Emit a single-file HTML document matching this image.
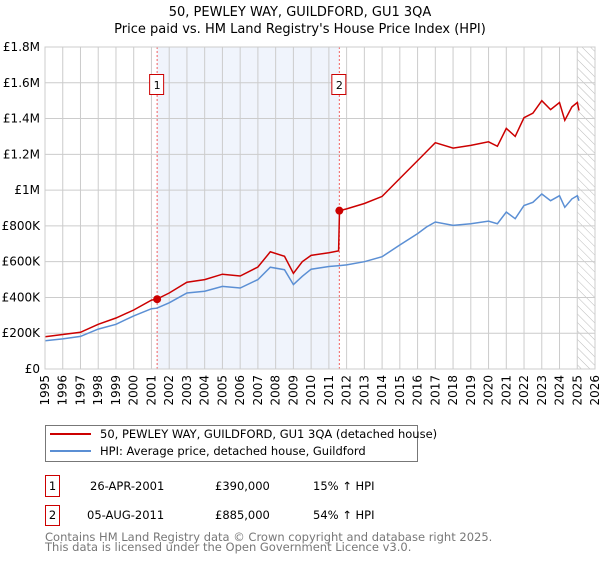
<!DOCTYPE html>
<html><head><meta charset="utf-8"><style>
body{margin:0;background:#fff;font-family:"Liberation Sans","DejaVu Sans",sans-serif;}
svg text{font-family:"DejaVu Sans","Liberation Sans",sans-serif;}
</style></head><body>
<svg id="c" width="600" height="560" xmlns="http://www.w3.org/2000/svg">
<defs><pattern id="hatch" width="6" height="6" patternUnits="userSpaceOnUse" patternTransform="rotate(-45)"><line x1="0" y1="0" x2="0" y2="6" stroke="#bbb" stroke-width="1"/></pattern></defs>
<text x="300" y="16" text-anchor="middle" font-size="13">50, PEWLEY WAY, GUILDFORD, GU1 3QA</text>
<text x="300" y="33" text-anchor="middle" font-size="13">Price paid vs. HM Land Registry's House Price Index (HPI)</text>
<g id="plot"></g>
<g>
<rect x="45.5" y="425.5" width="372" height="36" fill="#fff" stroke="#777"/>
<line x1="50" y1="434" x2="91" y2="434" stroke="#cc0000" stroke-width="2"/>
<text x="100" y="438" font-size="11.5">50, PEWLEY WAY, GUILDFORD, GU1 3QA (detached house)</text>
<line x1="50" y1="451" x2="91" y2="451" stroke="#5b8fd4" stroke-width="2"/>
<text x="100" y="455" font-size="11.5">HPI: Average price, detached house, Guildford</text>
</g>
<g font-size="11.5">
<rect x="45.5" y="475.5" width="14" height="21" fill="none" stroke="#cc0000"/>
<text x="52.5" y="490" text-anchor="middle">1</text>
<text x="90" y="490">26-APR-2001</text><text x="215" y="490">£390,000</text><text x="313" y="490">15% ↑ HPI</text>
<rect x="45.5" y="505.5" width="14" height="20" fill="none" stroke="#cc0000"/>
<text x="52.5" y="519" text-anchor="middle">2</text>
<text x="87" y="519">05-AUG-2011</text><text x="215" y="519">£885,000</text><text x="313" y="519">54% ↑ HPI</text>
</g>
<text x="45" y="541" font-size="11.5" fill="#777">Contains HM Land Registry data © Crown copyright and database right 2025.</text>
<text x="45" y="551" font-size="11.5" fill="#777">This data is licensed under the Open Government Licence v3.0.</text>
</svg>
<script>
const hpiYears=[1995,1996,1997,1998,1999,2000,2001,2001.3,2002,2003,2004,2005,2006,2007,2007.7,2008.5,2009,2009.5,2010,2011,2011.6,2012,2013,2014,2015,2016,2016.5,2017,2018,2019,2020,2020.5,2021,2021.5,2022,2022.5,2023,2023.5,2024,2024.3,2024.7,2025,2025.1];
const hpiValues=[158,168,182,223,250,297,337,340,370,425,435,462,453,500,569,555,472,518,558,573,578,582,600,628,693,757,794,822,803,812,827,812,877,840,914,932,978,941,969,904,951,969,941];
const redYears=[1995,1996,1997,1998,1999,2000,2001,2001.3,2002,2003,2004,2005,2006,2007,2007.7,2008.5,2009,2009.5,2010,2011,2011.55,2011.6,2012,2013,2014,2015,2016,2016.5,2017,2018,2019,2020,2020.5,2021,2021.5,2022,2022.5,2023,2023.5,2024,2024.3,2024.7,2025,2025.1];
const redValues=[180,193,205,250,285,330,385,390,425,485,500,530,520,570,655,630,535,600,635,650,660,885,895,925,965,1065,1165,1215,1265,1235,1250,1270,1245,1345,1300,1405,1430,1500,1450,1490,1390,1465,1490,1445];
const saleYears=[2001.32,2011.59];
const saleValues=[390,885];
const saleLabels=["1","2"];
const yTicks=[0,200,400,600,800,1000,1200,1400,1600,1800];
const yTickLabels=["£0","£200K","£400K","£600K","£800K","£1M","£1.2M","£1.4M","£1.6M","£1.8M"];
const xTicks=[1995,1996,1997,1998,1999,2000,2001,2002,2003,2004,2005,2006,2007,2008,2009,2010,2011,2012,2013,2014,2015,2016,2017,2018,2019,2020,2021,2022,2023,2024,2025,2026];

const L=45,R=595,T=47,B=369,NS="http://www.w3.org/2000/svg";
const x=v=>L+(v-1995)/(2026-1995)*(R-L);
const y=v=>B-v/1800*(B-T);
const g=document.getElementById('plot');
function el(t,a,p){const e=document.createElementNS(NS,t);for(const k in a)e.setAttribute(k,a[k]);(p||g).appendChild(e);return e;}
let e=el('rect',{x:x(saleYears[0]),y:T,width:x(saleYears[1])-x(saleYears[0]),height:B-T,fill:'#f0f4fc'});


e=el('rect',{x:x(2025),y:T,width:R-x(2025),height:B-T,fill:'url(#hatch)'});


yTicks.forEach((v,i)=>{
 let l=el('line',{x1:L,x2:R,y1:y(v),y2:y(v),stroke:'#ccc'});
 
 
 let t=el('text',{x:L-5,y:y(v)+4,'text-anchor':'end','font-size':12});t.textContent=yTickLabels[i];
 
 
});
xTicks.forEach(v=>{
 let l=el('line',{x1:x(v),x2:x(v),y1:T,y2:B,stroke:'#ccc'});
 
 
 let t=el('text',{x:x(v)+4,y:B+6,'text-anchor':'end','font-size':12,transform:`rotate(-90 ${x(v)+4} ${B+6})`});t.textContent=v;
 
 
});
function path(xs,vs){return xs.map((v,i)=>(i?'L':'M')+x(v).toFixed(1)+','+y(vs[i]).toFixed(1)).join('');}
saleYears.forEach((v,i)=>{
 let l=el('line',{x1:x(v),x2:x(v),y1:T,y2:B,stroke:'#f06060','stroke-dasharray':'2,2'});
 
 
 let r=el('rect',{x:x(v)-7.5,y:74.5,width:14,height:20,fill:'#fff',stroke:'#cc0000'});
 
 
 let t=el('text',{x:x(v),y:89,'text-anchor':'middle','font-size':11});t.textContent=saleLabels[i];
 
 
});
e=el('path',{d:path(hpiYears,hpiValues),fill:'none',stroke:'#5b8fd4','stroke-width':1.5});


e=el('path',{d:path(redYears,redValues),fill:'none',stroke:'#cc0000','stroke-width':1.5});


saleYears.forEach((v,i)=>{
 let c=el('circle',{cx:x(v),cy:y(saleValues[i]),r:4,fill:'#cc0000'});
 
 
});
e=el('rect',{x:L,y:T,width:R-L,height:B-T,fill:'none',stroke:'#ccc'});


</script>
</body></html>
